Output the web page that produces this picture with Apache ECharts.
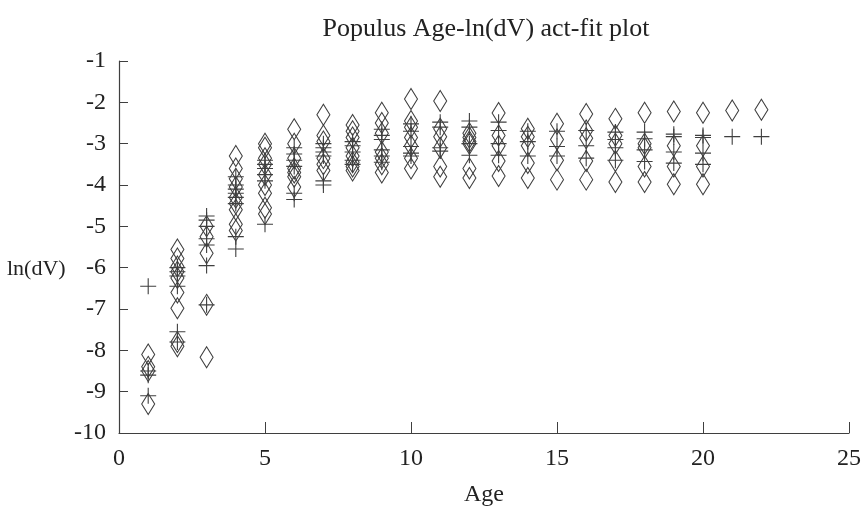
<!DOCTYPE html>
<html>
<head>
<meta charset="utf-8">
<script src="https://cdn.jsdelivr.net/npm/echarts@6/dist/echarts.min.js"></script>
<style>
  html, body { margin: 0; padding: 0; background: #fff; }
  #chart { width: 868px; height: 512px; }
</style>
</head>
<body>
<div id="chart"></div>
<script>
// Tree age (years) for each column of observations
const ages = [1, 2, 3, 4, 5, 6, 7, 8, 9, 10, 11, 12, 13, 14, 15, 16, 17, 18, 19, 20, 21, 22];

// Observed ln(dV) values, one list per age
const actualByAge = [
  [-8.1, -8.4, -8.5, -9.3],
  [-5.56, -5.78, -5.97, -6.1, -6.25, -6.6, -6.98, -7.8, -7.9],
  [-5.0, -5.25, -5.65, -6.9, -8.17],
  [-3.3, -3.6, -3.85, -4.05, -4.3, -4.45, -4.6, -4.95, -5.1],
  [-3.0, -3.1, -3.35, -3.5, -3.75, -4.0, -4.2, -4.55, -4.7],
  [-2.65, -3.0, -3.35, -3.6, -3.7, -3.8, -4.05],
  [-2.3, -2.8, -2.95, -3.35, -3.5, -3.65],
  [-2.55, -2.7, -2.85, -3.1, -3.3, -3.45, -3.55, -3.65],
  [-2.25, -2.5, -2.75, -3.2, -3.35, -3.5, -3.7],
  [-1.92, -2.45, -2.6, -2.85, -3.05, -3.35, -3.6],
  [-1.97, -2.64, -2.83, -3.1, -3.55, -3.8],
  [-2.75, -2.85, -2.95, -3.0, -3.6, -3.83],
  [-2.26, -2.8, -3.05, -3.42, -3.78],
  [-2.64, -2.83, -3.05, -3.47, -3.83],
  [-2.52, -2.9, -3.4, -3.87],
  [-2.28, -2.68, -2.87, -3.42, -3.87],
  [-2.4, -2.8, -3.0, -3.42, -3.93],
  [-2.25, -3.0, -3.1, -3.55, -3.93],
  [-2.22, -3.05, -3.55, -3.98],
  [-2.25, -3.05, -3.55, -3.98],
  [-2.2],
  [-2.18]
];

// Fitted ln(dV) values, one list per age
const fitByAge = [
  [-6.45, -8.5, -8.6, -9.1],
  [-6.0, -6.1, -6.2, -6.45, -7.55, -7.8],
  [-4.75, -4.85, -5.0, -5.3, -5.45, -5.95, -6.9],
  [-3.8, -4.0, -4.1, -4.2, -4.3, -4.45, -5.25, -5.55],
  [-3.4, -3.5, -3.6, -3.75, -3.9, -4.95],
  [-3.1, -3.25, -3.4, -3.55, -4.2, -4.35],
  [-3.0, -3.1, -3.2, -3.3, -3.9, -4.0],
  [-2.95, -3.05, -3.2, -3.4, -3.5],
  [-2.65, -2.8, -2.9, -3.15, -3.3, -3.45],
  [-2.52, -2.7, -3.07, -3.23, -3.3],
  [-2.48, -2.6, -3.1, -3.18],
  [-2.45, -2.6, -3.0, -3.28],
  [-2.48, -2.68, -3.0, -3.28],
  [-2.7, -2.95, -3.3],
  [-2.7, -3.07, -3.3],
  [-2.68, -3.05, -3.35],
  [-2.72, -2.9, -3.1, -3.4],
  [-2.72, -2.88, -3.15, -3.43],
  [-2.77, -2.83, -3.2, -3.47],
  [-2.8, -2.85, -3.23, -3.5],
  [-2.83],
  [-2.83]
];

// Axis ticks
const xTicks = [0, 5, 10, 15, 20, 25];
const yTicks = [-10, -9, -8, -7, -6, -5, -4, -3, -2, -1];

function toPoints(byAge) {
  const pts = [];
  byAge.forEach((vals, i) => vals.forEach(v => pts.push([ages[i], v])));
  return pts;
}

const ink = '#3f3f3f';
const serif = '"Liberation Serif", "DejaVu Serif", serif';

const chart = echarts.init(document.getElementById('chart'), null, { renderer: 'canvas' });

chart.setOption({
  animation: false,
  backgroundColor: '#ffffff',
  title: {
    text: 'Populus Age-ln(dV) act-fit plot',
    left: 481,
    top: 11,
    textAlign: 'center',
    textStyle: { fontFamily: serif, fontWeight: 'normal', fontSize: 26, color: '#222' }
  },
  grid: { left: 119, right: 19, top: 61, bottom: 72, containLabel: false },
  xAxis: {
    type: 'value',
    min: xTicks[0],
    max: xTicks[xTicks.length - 1],
    interval: 5,
    name: 'Age',
    nameLocation: 'middle',
    nameGap: 50,
    nameTextStyle: { fontFamily: serif, fontSize: 24, color: '#222' },
    axisLine: { show: true, onZero: false, lineStyle: { color: ink, width: 1.2 } },
    axisTick: { show: true, inside: true, length: 11, lineStyle: { color: ink, width: 1 } },
    axisLabel: { fontFamily: serif, fontSize: 24, color: '#222', margin: 14 },
    splitLine: { show: false }
  },
  yAxis: {
    type: 'value',
    min: yTicks[0],
    max: yTicks[yTicks.length - 1],
    interval: 1,
    axisLine: { show: true, onZero: false, lineStyle: { color: ink, width: 1.2 } },
    axisTick: { show: true, inside: true, length: 9, lineStyle: { color: ink, width: 1 } },
    axisLabel: { fontFamily: serif, fontSize: 24, color: '#222', margin: 13 },
    splitLine: { show: false }
  },
  graphic: [{
    type: 'text',
    left: 7,
    top: 258,
    style: { text: 'ln(dV)', font: '22px ' + serif, fill: '#222' }
  }],
  series: [
    {
      name: 'act',
      type: 'scatter',
      symbol: 'diamond',
      symbolSize: [13, 21],
      itemStyle: { color: 'rgba(0,0,0,0)', borderColor: ink, borderWidth: 1.1, opacity: 1 },
      data: toPoints(actualByAge)
    },
    {
      name: 'fit',
      type: 'scatter',
      symbol: 'path://M0,8L16,8M8,0L8,16',
      symbolSize: [16, 16],
      itemStyle: { color: 'rgba(0,0,0,0)', borderColor: ink, borderWidth: 1.1, opacity: 1 },
      data: toPoints(fitByAge)
    }
  ]
});
</script>
</body>
</html>
